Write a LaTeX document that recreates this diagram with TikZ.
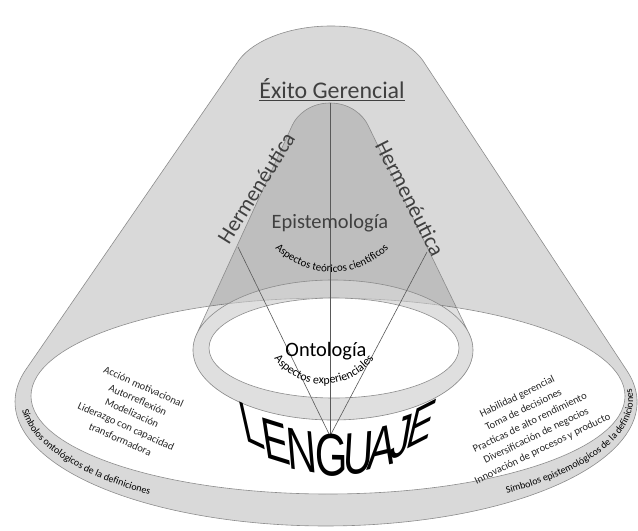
\documentclass[tikz,border=0pt]{standalone}
\usepackage{fontspec}
\setmainfont{Carlito}
\newfontfamily\bigfont[FakeStretch=0.7]{Liberation Sans}
\usepackage{tikz}
\usetikzlibrary{decorations.text}
\definecolor{conegray}{RGB}{217,217,217}
\definecolor{edgegray}{RGB}{140,140,140}
\definecolor{ringgray}{RGB}{201,201,201}
\definecolor{textgray}{RGB}{64,64,64}

\begin{document}
\begin{tikzpicture}[
    x=1bp, y=-1bp,
    rim/.style={draw=edgegray, line width=0.6pt},
    ray/.style={draw=black!65, line width=0.6pt},
    title/.style={text=textgray, inner sep=0pt, anchor=base},
    listing/.style={align=center, inner sep=0pt, text=black!85,
        font=\fontsize{10.6}{14.5}\selectfont},
    glyph/.style={font=\bigfont\fontsize{60}{60}\selectfont, anchor=base,
        inner sep=0pt, transform shape},
    arced/.style={decorate, decoration={text along path, text align=center, text={#1}}},
    banded/.style={decorate, decoration={text along path, text={#1}}}
]
    \useasboundingbox (0,0) rectangle (638,531);

    % Outer cone
    \path[rim, fill=conegray] (26.1,369.2) -- (239,60)
        .. controls (254,40) and (290,26) .. (331,26)
        .. controls (372,26) and (408,40) .. (422.5,60)
        -- (626.8,370.5) arc[start angle=-14.7, end angle=195.34, x radius=311, y radius=124] -- cycle;
    \path[rim, fill=white] (328,396) ellipse[x radius=297, y radius=98];

    % Inner cone
    \path[fill=ringgray, fill opacity=0.58] (333,350) ellipse[x radius=140, y radius=70];
    \path[rim, fill=black, fill opacity=0.12, even odd rule] (196.5,334.4) -- (292.4,125)
        .. controls (297,115) and (310,103) .. (330,103)
        .. controls (350,103) and (363,115) .. (367.9,125)
        -- (469,333.5) arc[start angle=-13.64, end angle=192.9, x radius=140, y radius=70] -- cycle
        (333,350) ellipse[x radius=140, y radius=70];
    \path[rim, fill=white] (334,348) ellipse[x radius=125, y radius=50];

    % Coordinates
    \coordinate (peak) at (330,103);
    \coordinate (apex) at (330,436);
    \coordinate (hermlfoot) at (238,247);
    \coordinate (hermrfoot) at (427,252);

    % Rays
    \draw[ray] (peak) -- (apex);
    \draw[ray] (hermlfoot) -- (apex);
    \draw[ray] (hermrfoot) -- (apex);

    % Labels
    \node[title, font=\fontsize{24}{28}\selectfont] (exito) at (332,99) {\underline{Éxito Gerencial}};
    \node[title, font=\fontsize{20.5}{24}\selectfont] (epist) at (330,229) {Epistemología};
    \node[title, text=black, font=\fontsize{20.5}{24}\selectfont] (onto) at (326,356) {Ontología};
    \node[text=textgray, inner sep=0pt, rotate=58, font=\fontsize{22}{24}\selectfont] (herml) at (256,188) {Hermenéutica};
    \node[text=textgray, inner sep=0pt, rotate=-63, font=\fontsize{22}{24}\selectfont] (hermr) at (410,198) {Hermenéutica};

    \path[arced={|\fontsize{11}{13}\selectfont|Aspectos teóricos científicos}]
        (332,192) ++(150:80) arc[start angle=150, end angle=30, radius=80];
    \path[arced={|\fontsize{12}{14}\selectfont|Aspectos experienciales}]
        (324,322) ++(155:62) arc[start angle=155, end angle=25, radius=62];

    % LENGUAJE, letter by letter
    \node[glyph, cm={0.904,-0.427,-0.219,0.976,(0,0)}] (lg1) at (256,445.5) {L};
    \node[glyph, cm={0.955,-0.298,-0.151,0.989,(0,0)}] (lg2) at (278.5,461.6) {E};
    \node[glyph, cm={0.986,-0.167,-0.084,0.996,(0,0)}] (lg3) at (303.5,471.5) {N};
    \node[glyph, cm={1.000,-0.021,-0.010,1.000,(0,0)}] (lg4) at (331.5,475.9) {G};
    \node[glyph, cm={0.993,0.114,0.057,0.998,(0,0)}] (lg5) at (357.5,473.9) {U};
    \node[glyph, cm={0.972,0.237,0.119,0.993,(0,0)}] (lg6) at (380.5,466.9) {A};
    \node[glyph, cm={0.941,0.338,0.171,0.985,(0,0)}] (lg7) at (398.5,457.4) {J};
    \node[glyph, cm={0.891,0.454,0.233,0.972,(0,0)}] (lg8) at (416.5,444.5) {E};

    % Lists
    \node[listing, rotate=-24] (acciones) at (132,413)
        {Acción motivacional\\Autorreflexión\\Modelización\\Liderazgo con capacidad\\transformadora};
    \node[listing, rotate=26] (habilidades) at (530,423)
        {Habilidad gerencial\\Toma de decisiones\\Practicas de alto rendimiento\\Diversificación de negocios\\Innovación de procesos y producto};

    % Rim labels
    \path[banded={|\fontsize{10}{12}\selectfont|Símbolos ontológicos de la definiciones}]
        (327,400) ++(175:306 and 116) arc[start angle=175, end angle=80, x radius=306, y radius=116];
    \path[banded={|\fontsize{10}{12}\selectfont|Símbolos epistemológicos de la definiciones}]
        (327,400) ++(54:306 and 116) arc[start angle=54, end angle=-30, x radius=306, y radius=116];
\end{tikzpicture}
\end{document}
